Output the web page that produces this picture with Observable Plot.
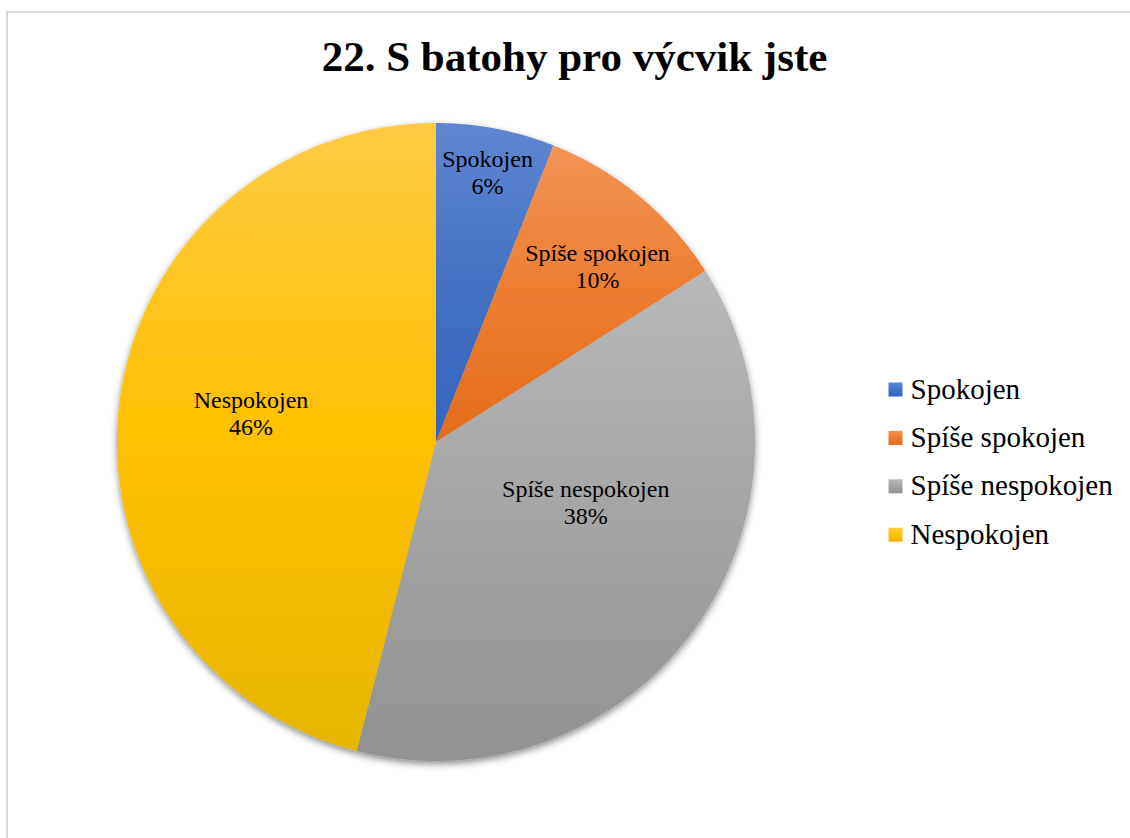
<!DOCTYPE html>
<html>
<head>
<meta charset="utf-8">
<script src="https://cdn.jsdelivr.net/npm/d3@7"></script>
<script src="https://cdn.jsdelivr.net/npm/@observablehq/plot@0.6"></script>
<style>
  html, body { margin: 0; padding: 0; background: #fff; width: 1130px; height: 838px; overflow: hidden; position: relative; }
  #frame { position: absolute; left: 6px; top: 11px; width: 1200px; height: 900px; border: 2px solid #d9d9d9; box-sizing: border-box; }
  #title { position: absolute; left: 0; top: 35px; width: 1149px; margin: 0; text-align: center;
           font: bold 43px/43px "Liberation Serif", "Times New Roman", serif; color: #000; }
  #chart { position: absolute; left: 0; top: 110px; }
  #chart svg, #chart text { font-family: "Liberation Serif", "Times New Roman", serif !important; }
</style>
</head>
<body>
<div id="frame"></div>
<h1 id="title">22. S batohy pro výcvik jste</h1>
<div id="chart"></div>
<script>
// ---- data ----
const categories = ["Spokojen", "Spíše spokojen", "Spíše nespokojen", "Nespokojen"];
const shares = [6, 10, 38, 46];
const percentLabels = ["6%", "10%", "38%", "46%"];

// ---- styles / layout ----
const gradientStops = [
  ["#5F86D2", "#4472C4", "#3463BE"],
  ["#F39457", "#ED7D31", "#E36C1A"],
  ["#B8B8B8", "#A5A5A5", "#929292"],
  ["#FFCB45", "#FFC000", "#E6B600"]
];
// label placement inside each slice: fraction of radius, fraction of the slice's angular span
const labelRadius = [0.863, 0.748, 0.505, 0.587];
const labelSpanPos = [0.5, 0.583, 0.395, 0.51];
const W = 1130, H = 728;
const cx = 435.5, cy = 331.5, R = 319;

const pie = d3.pie().sort(null).value(d => d.share)(categories.map((c, i) => ({cat: c, share: shares[i], pct: percentLabels[i], i})));

// polygon rows per slice
const sliceRows = [];
for (const a of pie) {
  const cat = a.data.cat;
  sliceRows.push({cat, x: cx, y: cy});
  const n = Math.max(2, Math.ceil((a.endAngle - a.startAngle) / 0.005));
  for (let k = 0; k <= n; k++) {
    const t = a.startAngle + (a.endAngle - a.startAngle) * k / n;
    sliceRows.push({cat, x: cx + R * Math.sin(t), y: cy - R * Math.cos(t)});
  }
}

const labelRows = pie.map((a, i) => {
  const m = a.startAngle + (a.endAngle - a.startAngle) * labelSpanPos[i];
  const r = R * labelRadius[i];
  return {text: a.data.cat + "\n" + a.data.pct, x: cx + r * Math.sin(m), y: cy - r * Math.cos(m)};
});

const legendRows = categories.map((c, i) => ({cat: c, x: 895, base: 288 + i * 48.4}));

const chart = Plot.plot({
  width: W, height: H,
  margin: 0,
  style: {background: "transparent", overflow: "visible", fontFamily: "Liberation Serif"},
  x: {type: "linear", domain: [0, W], range: [0, W], axis: null},
  y: {type: "linear", domain: [0, H], range: [0, H], axis: null},
  color: {type: "ordinal", domain: categories, range: categories.map((_, i) => `url(#grad${i})`)},
  marks: [
    Plot.line(sliceRows, {x: "x", y: "y", z: "cat", fill: "cat", stroke: "none", curve: "linear-closed"}),
    Plot.text(labelRows, {x: "x", y: "y", text: "text", fontSize: 24, lineHeight: 1.125,
      fontFamily: "Liberation Serif", fill: "#000", textAnchor: "middle", lineAnchor: "middle"}),
    Plot.dot(legendRows, {x: "x", y: d => d.base - 9, fill: "cat", symbol: "square", r: 7.9, stroke: "none"}),
    Plot.text(legendRows, {x: d => d.x + 15, y: "base", text: "cat", fontSize: 29,
      fontFamily: "Liberation Serif", fill: "#000", textAnchor: "start", lineAnchor: "bottom"})
  ]
});
document.getElementById("chart").appendChild(chart);

// gradients + shadow
const defs = d3.select(chart).insert("defs", ":first-child");
gradientStops.forEach((stops, i) => {
  const g = defs.append("linearGradient").attr("id", `grad${i}`)
    .attr("x1", 0).attr("y1", 0).attr("x2", 0).attr("y2", 1);
  g.append("stop").attr("offset", "0%").attr("stop-color", stops[0]);
  g.append("stop").attr("offset", "50%").attr("stop-color", stops[1]);
  g.append("stop").attr("offset", "100%").attr("stop-color", stops[2]);
});
const f = defs.append("filter").attr("id", "pieShadow")
  .attr("x", "-10%").attr("y", "-10%").attr("width", "120%").attr("height", "120%");
f.append("feDropShadow").attr("dx", 0).attr("dy", 3).attr("stdDeviation", 3.5)
  .attr("flood-color", "#000").attr("flood-opacity", 0.45);
const lineGroup = chart.querySelector('g[aria-label="line"]');
if (lineGroup) lineGroup.setAttribute("filter", "url(#pieShadow)");
</script>
</body>
</html>
